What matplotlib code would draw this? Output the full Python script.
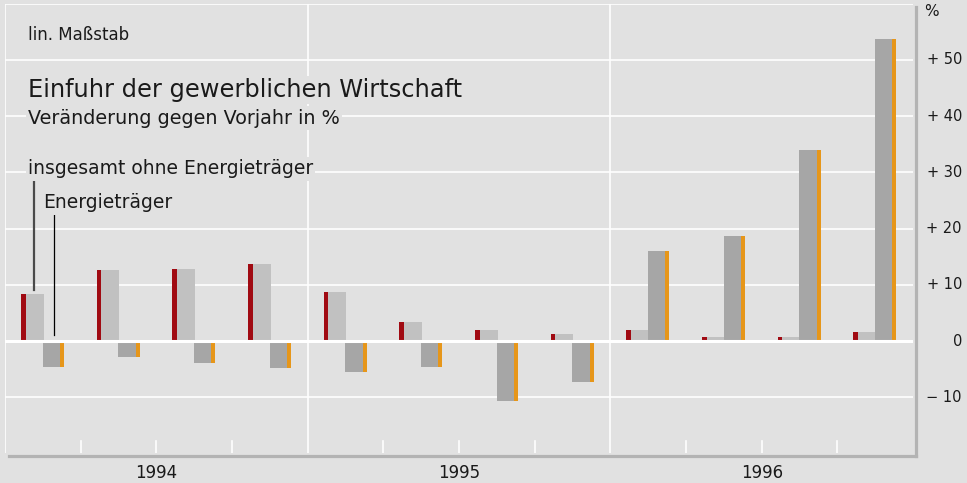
import numpy as np
import matplotlib.pyplot as plt

plt.rcParams['font.family'] = ['DejaVu Sans']

years = ['1994', '1995', '1996']
# Veränderung gegen Vorjahr in %, quarterly 1994 Q1 .. 1996 Q4
ohne_energie = [8.4, 12.6, 12.8, 13.7, 8.7, 3.3, 2.0, 1.2, 2.0, 0.6, 0.6, 1.5]
energie = [-4.6, -2.9, -3.9, -4.8, -5.6, -4.6, -10.8, -7.4, 16.0, 18.6, 34.0, 53.7]
ytick_vals = [-10, 0, 10, 20, 30, 40, 50]
ytick_labels = ['\u2212 10', '0', '+ 10', '+ 20', '+ 30', '+ 40', '+ 50']

bg = '#e1e1e1'
red = '#a00a12'
orange = '#e6961a'
light = '#c1c1c1'
dark = '#a6a6a6'
shadow = '#b3b3b3'
txt = '#1a1a1a'

W, H = 967, 483
fig = plt.figure(figsize=(W / 100, H / 100), dpi=100, facecolor=bg)
# plot area in pixels: x 5..913, y 4..453
ax = fig.add_axes([5 / W, 1 - 453 / H, 908 / W, 449 / H])
ax.set_facecolor(bg)
ax.set_xlim(0, 12)
ax.set_ylim(-20, 60)
for s in ax.spines.values():
    s.set_visible(False)
ax.set_xticks([])
ax.set_yticks([])

# grid
for v in ytick_vals + [60]:
    ax.axhline(v, color='white', lw=1.2, zorder=1)
ax.axhline(0, color='white', lw=2.2, zorder=4)
for xv in [0, 4, 8]:
    ax.axvline(xv, color='white', lw=1.2, zorder=1)
for q in range(12):
    if q % 4:
        ax.plot([q, q], [-20, -17.9], color='white', lw=1.2, zorder=1)

x = np.arange(12)
ax.bar(x + 0.21, ohne_energie, width=0.065, align='edge', color=red, zorder=2)
ax.bar(x + 0.275, ohne_energie, width=0.235, align='edge', color=light, zorder=2)
ax.bar(x + 0.50, energie, width=0.225, align='edge', color=dark, zorder=2)
ax.bar(x + 0.725, energie, width=0.055, align='edge', color=orange, zorder=2)

# shadow frame right and bottom
ax.plot([12.04, 12.04], [59.4, -20.55], color=shadow, lw=2.3, clip_on=False, zorder=5)
ax.plot([0.05, 12.04], [-20.55, -20.55], color=shadow, lw=2.3, clip_on=False, zorder=5)

# leader lines
ax.plot([0.383, 0.383], [29.0, ohne_energie[0] + 0.6], color='#4a4a4a', lw=1.6, zorder=6)
ax.plot([0.641, 0.641], [23.1, 1.0], color='black', lw=0.9, zorder=6)


def fx(px):
    return px / W


def fy(py):
    return 1 - py / H


box = dict(facecolor=bg, edgecolor='none', pad=1.5)
fig.text(fx(28), fy(39.5), 'lin. Maßstab', fontsize=12, color=txt, va='baseline')
fig.text(fx(28), fy(97), 'Einfuhr der gewerblichen Wirtschaft', fontsize=17.4,
         color=txt, va='baseline', bbox=box)
fig.text(fx(28), fy(123.5), 'Veränderung gegen Vorjahr in %', fontsize=13.8,
         color=txt, va='baseline', bbox=box)
fig.text(fx(28), fy(174.5), 'insgesamt ohne Energieträger', fontsize=13.5,
         color=txt, va='baseline', bbox=box)
fig.text(fx(43), fy(208.5), 'Energieträger', fontsize=13.5, color=txt, va='baseline',
         bbox=box)

# right axis labels
for v, lab in zip(ytick_vals, ytick_labels):
    ypx = 341 - 5.62 * v
    fig.text(fx(962), fy(ypx), lab, fontsize=10.5, color=txt, ha='right', va='center')
fig.text(fx(924), fy(11), '%', fontsize=11, color=txt, ha='left', va='center')

# year labels
for i, yr in enumerate(years):
    fig.text(fx(5 + 302.7 * (i + 0.5)), fy(473), yr, fontsize=12, color=txt,
             ha='center', va='center')

fig.savefig('out.png', dpi=100, facecolor=bg)
